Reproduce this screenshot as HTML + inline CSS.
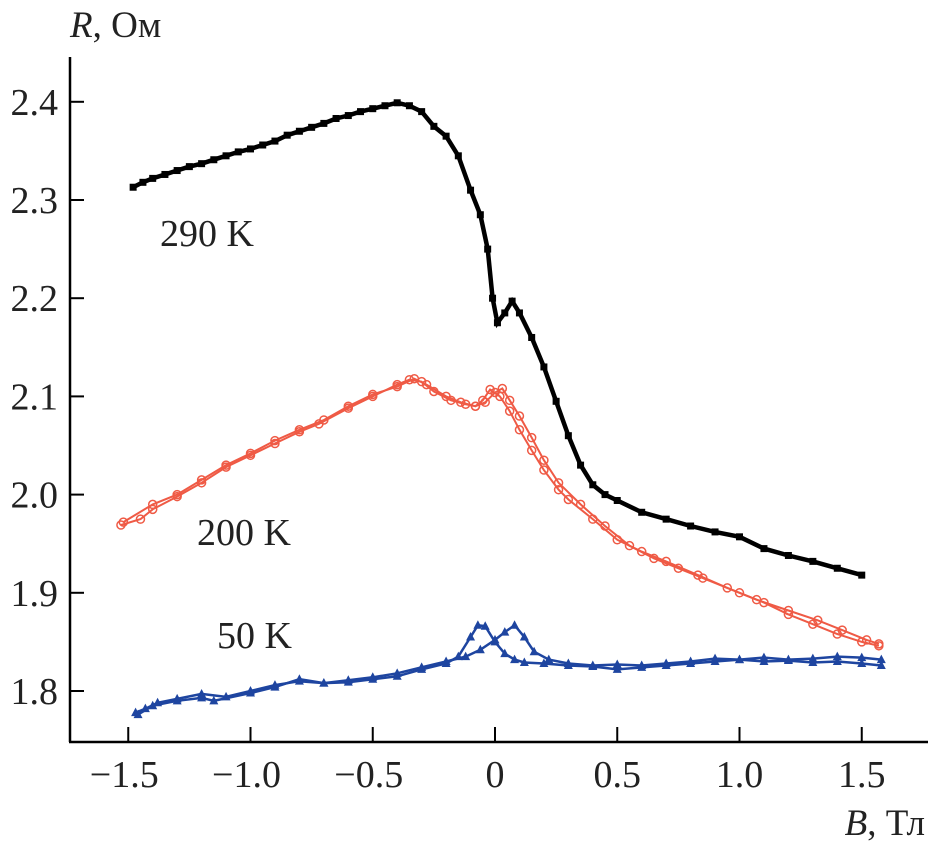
<!DOCTYPE html>
<html><head><meta charset="utf-8">
<style>
html,body{margin:0;padding:0;background:#fff;}
svg{display:block;font-family:"Liberation Serif",serif;}
</style></head>
<body>
<svg id="chart" width="928" height="850" viewBox="0 0 928 850"></svg>
<script>
const xTicks=[-1.5,-1.0,-0.5,0,0.5,1.0,1.5];
const xTickLabels=["\u22121.5","\u22121.0","\u22120.5","0","0.5","1.0","1.5"];
const yTicks=[1.8,1.9,2.0,2.1,2.2,2.3,2.4];
const yTickLabels=["1.8","1.9","2.0","2.1","2.2","2.3","2.4"];
const b290=[-1.48,-1.44,-1.4,-1.35,-1.3,-1.25,-1.2,-1.15,-1.1,-1.05,-1.0,-0.95,-0.9,-0.85,-0.8,-0.75,-0.7,-0.65,-0.6,-0.55,-0.5,-0.45,-0.4,-0.35,-0.3,-0.25,-0.2,-0.15,-0.1,-0.06,-0.03,-0.01,0.01,0.04,0.07,0.1,0.15,0.2,0.25,0.3,0.35,0.4,0.45,0.5,0.6,0.7,0.8,0.9,1.0,1.1,1.2,1.3,1.4,1.5];
const r290=[2.313,2.318,2.322,2.326,2.330,2.334,2.337,2.341,2.345,2.349,2.352,2.356,2.360,2.366,2.370,2.374,2.378,2.383,2.386,2.390,2.393,2.396,2.399,2.396,2.390,2.375,2.365,2.345,2.31,2.285,2.25,2.20,2.175,2.185,2.197,2.185,2.16,2.13,2.095,2.06,2.03,2.01,2.0,1.994,1.982,1.975,1.968,1.962,1.957,1.945,1.938,1.932,1.925,1.918];
const b200a=[-1.53,-1.45,-1.4,-1.3,-1.2,-1.1,-1.0,-0.9,-0.8,-0.72,-0.6,-0.5,-0.4,-0.35,-0.3,-0.25,-0.18,-0.12,-0.08,-0.05,-0.02,0.02,0.06,0.1,0.15,0.2,0.26,0.3,0.4,0.5,0.6,0.7,0.83,0.95,1.07,1.2,1.32,1.42,1.52,1.57];
const r200a=[1.969,1.975,1.985,1.998,2.012,2.028,2.040,2.052,2.064,2.072,2.088,2.100,2.112,2.117,2.115,2.105,2.096,2.092,2.090,2.096,2.107,2.100,2.085,2.066,2.045,2.025,2.005,1.995,1.975,1.954,1.942,1.932,1.918,1.905,1.893,1.882,1.872,1.862,1.852,1.848];
const b200b=[-1.52,-1.4,-1.3,-1.2,-1.1,-1.0,-0.9,-0.8,-0.7,-0.6,-0.5,-0.4,-0.33,-0.28,-0.2,-0.14,-0.08,-0.04,0.0,0.03,0.06,0.1,0.15,0.2,0.26,0.35,0.45,0.55,0.65,0.75,0.85,1.0,1.1,1.2,1.3,1.4,1.5,1.57];
const r200b=[1.972,1.990,2.000,2.015,2.030,2.042,2.055,2.066,2.076,2.090,2.102,2.110,2.118,2.112,2.100,2.094,2.090,2.094,2.104,2.108,2.096,2.080,2.058,2.035,2.012,1.990,1.968,1.948,1.935,1.925,1.915,1.900,1.890,1.878,1.868,1.858,1.850,1.846];
const b50a=[-1.47,-1.43,-1.38,-1.3,-1.2,-1.1,-1.0,-0.9,-0.8,-0.7,-0.6,-0.5,-0.4,-0.3,-0.2,-0.15,-0.1,-0.07,-0.04,0.0,0.04,0.08,0.12,0.2,0.3,0.4,0.5,0.6,0.7,0.8,0.9,1.0,1.1,1.2,1.3,1.4,1.5,1.58];
const r50a=[1.778,1.782,1.788,1.792,1.797,1.794,1.800,1.806,1.810,1.808,1.809,1.812,1.815,1.822,1.828,1.835,1.855,1.867,1.866,1.850,1.838,1.832,1.829,1.828,1.826,1.825,1.822,1.824,1.826,1.828,1.830,1.832,1.830,1.831,1.829,1.830,1.828,1.826];
const b50b=[-1.46,-1.4,-1.3,-1.2,-1.15,-1.0,-0.9,-0.8,-0.7,-0.6,-0.5,-0.4,-0.3,-0.2,-0.12,-0.06,0.0,0.04,0.08,0.12,0.16,0.22,0.3,0.4,0.5,0.6,0.7,0.8,0.9,1.0,1.1,1.2,1.3,1.4,1.5,1.58];
const r50b=[1.776,1.785,1.790,1.793,1.790,1.798,1.804,1.812,1.808,1.811,1.814,1.818,1.824,1.830,1.835,1.842,1.852,1.860,1.867,1.855,1.840,1.832,1.828,1.826,1.827,1.826,1.828,1.830,1.833,1.832,1.834,1.832,1.833,1.835,1.834,1.832];

const NS="http://www.w3.org/2000/svg";
const svg=document.getElementById('chart');
const X=v=>495+244.5*v;
const Y=v=>691-(v-1.8)*982;
function mk(tag,attrs,parent){const e=document.createElementNS(NS,tag);for(const k in attrs)e.setAttribute(k,attrs[k]);(parent||svg).appendChild(e);return e;}

let e=mk('line',{x1:70,y1:57,x2:70,y2:742,stroke:'#000','stroke-width':2.5});


e=mk('line',{x1:69,y1:742,x2:928,y2:742,stroke:'#000','stroke-width':2.5});


xTicks.forEach((t,i)=>{
  const tk=mk('line',{x1:X(t),y1:727,x2:X(t),y2:742,stroke:'#000','stroke-width':2});
  
  
  const tx=mk('text',{x:X(t)+(i<3?-4:0),y:787,'font-size':38,'text-anchor':'middle',fill:'#222'});
  tx.textContent=xTickLabels[i];
  
  
});
yTicks.forEach((t,i)=>{
  const tk=mk('line',{x1:70,y1:Y(t),x2:84,y2:Y(t),stroke:'#000','stroke-width':2});
  
  
  const tx=mk('text',{x:58,y:Y(t)+13,'font-size':38,'text-anchor':'end',fill:'#222'});
  tx.textContent=yTickLabels[i];
  
  
});
function label(txt,it,x,y,anchor,name){
  const t=mk('text',{x:x,y:y,'font-size':37,'text-anchor':anchor,fill:'#222'});
  const s=mk('tspan',{'font-style':'italic'},t);s.textContent=it;
  const s2=mk('tspan',{},t);s2.textContent=txt;
  
  
}
label(', Ом','R',70,37,'start','y-axis-title');
label(', Тл','B',925,835,'end','x-axis-title');
[["290 K",160,246,'label-290k'],["200 K",197,545,'label-200k'],["50 K",217,648,'label-50k']].forEach(d=>{
  const t=mk('text',{x:d[1],y:d[2],'font-size':38,fill:'#222'});t.textContent=d[0];
  
  
});

function series(bs,rs,color,marker,name){
  const g=mk('g',{});
  
  
  const pts=bs.map((b,i)=>X(b).toFixed(1)+','+Y(rs[i]).toFixed(1)).join(' ');
  mk('polyline',{points:pts,fill:'none',stroke:color,'stroke-width':marker==='sq'?4.5:(marker==='ci'?2:2.5)},g);
  bs.forEach((b,i)=>{
    const x=X(b),y=Y(rs[i]);let m;
    if(marker==='sq') m=mk('rect',{x:x-3.5,y:y-3.5,width:7,height:7,fill:color},g);
    else if(marker==='ci') m=mk('circle',{cx:x,cy:y,r:4,fill:'none',stroke:color,'stroke-width':1.5},g);
    else m=mk('polygon',{points:`${x},${y-5} ${x-4.5},${y+3.5} ${x+4.5},${y+3.5}`,fill:color},g);
    
    
  });
}
series(b290,r290,'#000','sq','series-290k');
series(b200a,r200a,'#ef5a45','ci','series-200k-up');
series(b200b,r200b,'#ef5a45','ci','series-200k-down');
series(b50a,r50a,'#1e45a0','tr','series-50k-up');
series(b50b,r50b,'#1e45a0','tr','series-50k-down');
</script>
</body></html>
